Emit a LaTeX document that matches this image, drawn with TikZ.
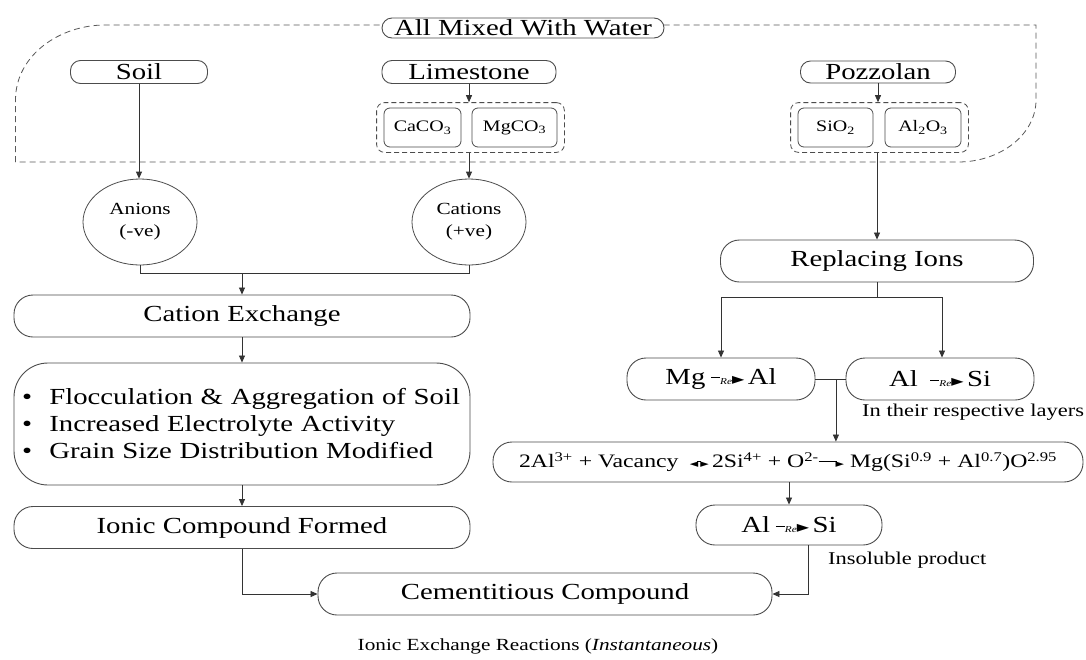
\documentclass[tikz,border=0pt]{standalone}
\usepackage{fontspec}
\setmainfont{Liberation Serif}[FakeStretch=1.25]
\newfontfamily\djv{DejaVu Sans}
\usetikzlibrary{arrows.meta,fit,shapes.geometric}
\newcommand\fbig{\fontsize{23}{27}\selectfont}
\newcommand\fmid{\fontsize{17}{22}\selectfont}
\newcommand\fchem{\fontsize{16}{18}\selectfont}
\newcommand\fsmall{\fontsize{18}{20}\selectfont}
\newcommand\feq{\fontsize{19}{22}\selectfont}
\newcommand\fcap{\fontsize{17}{20}\selectfont}
\newcommand\rearr{\hspace{0.25em}\raisebox{6.5pt}{\rule{9pt}{0.8pt}}{\fontsize{9}{9}\selectfont\itshape Re}\raisebox{0.4pt}{\djv\fontsize{16}{16}\selectfont►}\hspace{0.15em}}
\newcommand\dblarr{\raisebox{0.5pt}{\djv\fontsize{11}{11}\selectfont◄}\hspace{-1pt}\raisebox{5.5pt}{\rule{4pt}{0.8pt}}\hspace{-1pt}\raisebox{0.5pt}{\djv\fontsize{11}{11}\selectfont►}}
\newcommand\sarr{\raisebox{5.5pt}{\rule{18pt}{0.8pt}}\hspace{-1pt}\raisebox{0.5pt}{\djv\fontsize{11}{11}\selectfont►}}
\begin{document}
\begin{tikzpicture}[x=1pt,y=-1pt,
  ln/.style={draw=black!80, line width=0.8pt},
  arr/.style={ln, -{Triangle[length=7pt,width=6pt]}},
  pill/.style={draw=black!70, line width=0.9pt, fill=white, rounded corners=10pt, inner sep=0pt, font=\fbig, text=black},
  bigbox/.style={pill, rounded corners=19pt, minimum height=42pt},
  chem/.style={draw=black!70, line width=0.8pt, fill=white, rounded corners=6pt, inner sep=0pt, minimum height=39pt, font=\fchem, text=black},
  grp/.style={draw=black!70, line width=0.8pt, dash pattern=on 5pt off 3pt, rounded corners=8pt, inner xsep=7pt, inner ysep=5pt},
  ell/.style={draw=black!70, line width=0.8pt, ellipse, minimum width=114pt, minimum height=86pt, inner sep=0pt, font=\fmid, align=center, text=black},
  dashline/.style={draw=black!65, line width=0.8pt, dash pattern=on 6pt off 4pt},
  lbl/.style={font=\fsmall, text=black, inner sep=0pt}
]
\useasboundingbox[fill=white] (0,0) rectangle (1086,659);

% outer dashed frame
\draw[dashline] (15.5,162) -- (15.5,100) .. controls (15.5,55) and (60,25) .. (105,25)
  -- (1036,25) -- (1036,100) .. controls (1036,134) and (1001,162) .. (958,162) -- cycle;

\node[pill, minimum width=282pt, minimum height=20pt] (mix) at (523,28) {All Mixed With Water};
\node[pill, minimum width=137pt, minimum height=23pt] (soil) at (139,72) {Soil};
\node[pill, minimum width=174pt, minimum height=23pt] (lime) at (469,72) {Limestone};
\node[pill, minimum width=155pt, minimum height=22pt] (pozz) at (878,72) {Pozzolan};

\node[chem, minimum width=77pt] (caco) at (422.5,127.5) {CaCO\textsubscript{3}};
\node[chem, minimum width=85pt] (mgco) at (514.5,127.5) {MgCO\textsubscript{3}};
\node[grp, fit=(caco)(mgco)] (limeg) {};
\node[chem, minimum width=75pt] (sio) at (835.5,127.5) {SiO\textsubscript{2}};
\node[chem, minimum width=76pt] (alo) at (923,127.5) {Al\textsubscript{2}O\textsubscript{3}};
\node[grp, fit=(sio)(alo)] (pozzg) {};

\node[ell] (an) at (140,222) {Anions\\(-ve)};
\node[ell] (cat) at (469,222) {Cations\\(+ve)};

\node[bigbox, minimum width=456pt] (cex) at (242,316) {Cation Exchange};
\node[pill, rounded corners=34pt, minimum width=456pt, minimum height=122pt,
      text width=440pt, align=left] (bul) at (242,424)
  {\textbullet\hspace{0.75em}Flocculation \& Aggregation of Soil\\
   \textbullet\hspace{0.75em}Increased Electrolyte Activity\\
   \textbullet\hspace{0.75em}Grain Size Distribution Modified};
\node[bigbox, minimum width=456pt] (ion) at (242,527.5) {Ionic Compound Formed};
\node[bigbox, minimum width=454pt] (cem) at (545,594) {Cementitious Compound};

\node[bigbox, minimum width=313pt] (rep) at (877,261) {Replacing Ions};
\node[bigbox, minimum width=188pt] (mg) at (721,379) {Mg\rearr Al};
\node[bigbox, minimum width=188pt] (alu) at (940,379) {Al\hspace{0.3em}\rearr Si};
\node[bigbox, minimum width=590pt, minimum height=40pt, font=\feq] (eq) at (788,462)
  {2Al\textsuperscript{3+} + Vacancy\hspace{0.6em}\dblarr\,2Si\textsuperscript{4+} + O\textsuperscript{2-}\sarr\ Mg(Si\textsuperscript{0.9} + Al\textsuperscript{0.7})O\textsuperscript{2.95}};
\node[bigbox, minimum width=186pt, minimum height=40pt] (als) at (789,525) {Al\rearr Si};

\node[lbl, anchor=west] (lay) at (862,412) {In their respective layers};
\node[lbl, anchor=west] (ins) at (828,560) {Insoluble product};
\node[font=\fcap, text=black, inner sep=0pt] (cap) at (538,646) {Ionic Exchange Reactions (\textit{Instantaneous})};

% connectors
\draw[arr] (soil.south) -- (soil.south |- an.north);
\draw[arr] (lime.south) -- (lime.south |- limeg.north);
\draw[arr] (limeg.south -| cat.north) -- (cat.north);
\draw[arr] (pozz.south) -- (pozz.south |- pozzg.north);
\draw[arr] (pozzg.south -| rep.north) -- (rep.north);

\draw[ln] (an.south) -- ++(0,8) coordinate (aj) -| (cat.south);
\draw[arr] (aj -| cex.north) -- (cex.north);
\draw[arr] (cex.south) -- (bul.north);
\draw[arr] (bul.south) -- (ion.north);
\draw[arr] (ion.south) |- (cem.west);

\draw[ln] (rep.south) -- ++(0,15) coordinate (rj);
\draw[arr] (rj) -| (mg.north);
\draw[arr] (rj) -| ([xshift=2pt]alu.north);
\draw[ln] (mg.east) -- coordinate[pos=0.68] (mj) (alu.west);
\draw[arr] (mj) -- (mj |- eq.north);
\draw[arr] (eq.south -| als.north) -- (als.north);
\draw[arr] ([xshift=19pt]als.south) |- (cem.east);
\end{tikzpicture}
\end{document}
